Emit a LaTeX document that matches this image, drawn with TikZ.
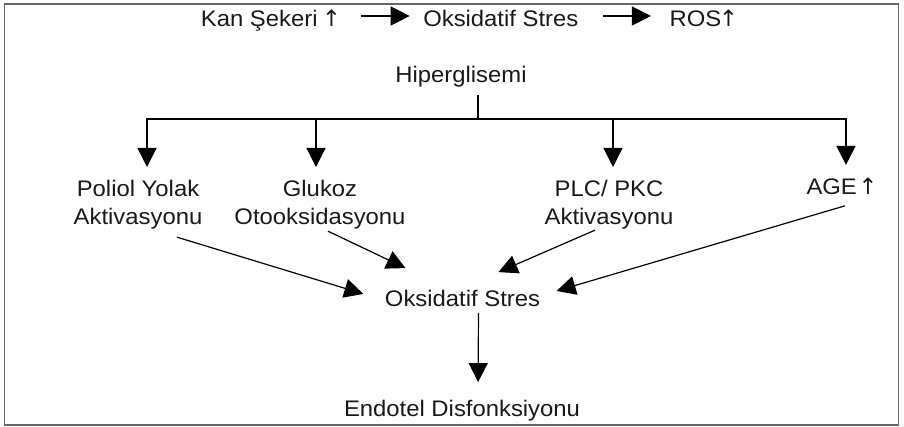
\documentclass[tikz,border=0pt]{standalone}
\usepackage{fontspec}
\setmainfont{Liberation Sans}[FakeStretch=1.06]
\newfontfamily\arrowfont{DejaVu Sans}
\newcommand{\up}{{\arrowfont\kern-2pt↑\kern-2pt}}
\usepackage{tikz}
\usetikzlibrary{arrows.meta}
\usetikzlibrary{positioning}

\begin{document}
\begin{tikzpicture}[x=1pt,y=1pt,->,>={Triangle[length=19pt,width=19pt]},line width=1.2pt,
  every node/.style={inner sep=0pt,align=center,text=black!90,font=\fontsize{22.5}{28}\selectfont}]

\useasboundingbox (0,0) rectangle (904,427);
\draw[-, draw=black!60, line width=1.6pt] (4.5,2) rectangle (898.5,423);

\node[anchor=base] (KS) at (270,400) {Kan Şekeri \up};
\node (OS1) [base right=83pt of KS] {Oksidatif Stres};
\node (ROS) [base right=90pt of OS1] {ROS\up};

\node[anchor=base] (H) at (461,344) {Hiperglisemi};
\coordinate (B) at (478,308);

\node[anchor=north] (PY) at (138,247) {Poliol Yolak\\Aktivasyonu};
\node[anchor=north] (GO) at (320,247) {Glukoz\\Otooksidasyonu};
\node[anchor=north] (PK) at (609,247) {PLC/ PKC\\Aktivasyonu};
\node[anchor=base] (AGE) at (841,232) {AGE\,\up};

\node[anchor=base] (OS2) at (462.5,120) {Oksidatif Stres};
\node[anchor=base] (ED) at (462,10) {Endotel Disfonksiyonu};

\draw[shorten <=21pt, shorten >=13pt] ([yshift=11pt]KS.base east) -- ([yshift=11pt]OS1.base west);
\draw[shorten <=24pt, shorten >=18pt] ([yshift=11pt]OS1.base east) -- ([yshift=11pt]ROS.base west);

\draw[-, shorten <=7pt] ([xshift=17pt]H.south) -- (B);
\draw[shorten >=13pt] (B) -| ([xshift=9pt]PY.north);
\draw[shorten >=13pt] (B) -| ([xshift=-4pt]GO.north);
\draw[shorten >=13pt] (B) -| ([xshift=4pt]PK.north);
\draw[shorten >=13pt] (B) -| ([xshift=5pt]AGE.north);

\draw ([xshift=39pt,yshift=-7pt]PY.south) -- ([xshift=-21pt,yshift=5pt]OS2.west);
\draw ([xshift=8pt,yshift=-1pt]GO.south) -- ([xshift=-57pt,yshift=22pt]OS2.north);
\draw ([xshift=-14pt]PK.south) -- ([xshift=36pt,yshift=18pt]OS2.north);
\draw ([xshift=4pt,yshift=-10pt]AGE.south) -- ([xshift=16pt,yshift=8pt]OS2.east);

\draw[shorten <=5pt, shorten >=18pt] ([xshift=16pt]OS2.south) -- ([xshift=16pt]ED.north);

\end{tikzpicture}
\end{document}
